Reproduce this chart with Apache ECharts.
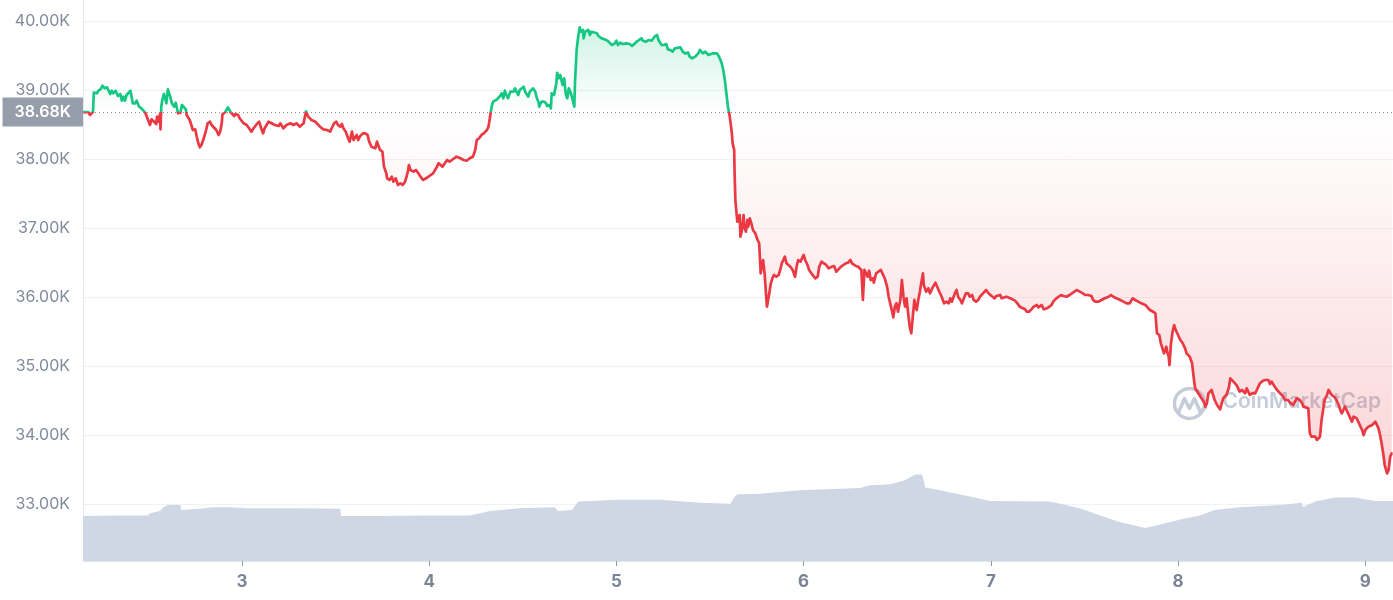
<!DOCTYPE html>
<html><head><meta charset="utf-8">
<script src="https://cdn.jsdelivr.net/npm/echarts@6/dist/echarts.min.js"></script>
<style>html,body{margin:0;padding:0;background:#fff}#c{width:1393px;height:600px}</style>
</head><body><div id="c"></div>
<script>
// x = hours since day 2, 00:00 ; y = price in USD
const baselinePrice = 38680;
const dayTicks = [3, 4, 5, 6, 7, 8, 9];
const priceTicks = [33000, 34000, 35000, 36000, 37000, 38000, 39000, 40000];
const pricePoints = [
[3.62,38680],[4.3,38680],[4.5,38638],[4.9,38685],[5.0,38961],[5.4,38952],[5.6,38990],[5.9,39014],[6.1,39062],[6.4,39024],[6.7,39039],[7.1,38942],[7.3,38990],[7.5,38952],[7.8,38990],[8.1,38913],[8.4,38942],[8.6,38845],[8.8,38903],[9.0,38845],[9.2,38927],[9.4,38952],[9.7,38990],[10.0,38807],[10.3,38807],[10.5,38845],[10.8,38758],[11.1,38734],[11.6,38671],[11.8,38613],[12.0,38638],[12.2,38493],[12.4,38575],[12.6,38590],[13.0,38507],[13.1,38613],[13.3,38540],[13.5,38662],[13.55,38430],[13.65,38758],[13.8,38865],[14.0,38942],[14.2,38855],[14.3,38807],[14.5,39010],[14.8,38903],[15.0,38807],[15.3,38758],[15.5,38816],[15.8,38662],[16.1,38671],[16.3,38782],[16.5,38807],[16.8,38720],[16.9,38638],[17.3,38565],[17.7,38420],[18.0,38430],[18.2,38323],[18.4,38227],[18.6,38170],[18.8,38203],[19.1,38300],[19.4,38420],[19.6,38517],[19.9,38540],[20.1,38493],[20.3,38493],[20.7,38420],[21.0,38348],[21.2,38396],[21.4,38517],[21.5,38652],[21.8,38671],[22.0,38685],[22.2,38749],[22.5,38685],[22.7,38662],[23.0,38623],[23.2,38652],[23.5,38638],[23.7,38590],[24.2,38517],[24.6,38493],[25.0,38430],[25.2,38396],[25.4,38430],[25.9,38507],[26.2,38540],[26.5,38430],[26.7,38372],[26.9,38445],[27.4,38540],[27.8,38517],[28.2,38493],[28.7,38478],[28.9,38517],[29.3,38445],[29.7,38493],[30.2,38517],[30.6,38493],[31.0,38517],
[31.4,38468],[31.9,38517],[32.2,38690],[32.5,38613],[32.9,38565],[33.4,38540],[34.0,38468],[34.4,38430],[34.9,38420],[35.3,38396],[35.5,38445],[35.8,38517],[36.1,38540],[36.3,38493],[36.6,38468],[36.8,38507],[37.0,38445],[37.3,38396],[37.6,38300],[37.8,38251],[38.1,38396],[38.3,38275],[38.5,38251],[38.7,38348],[38.9,38275],[39.1,38323],[39.5,38372],[39.8,38372],[40.1,38348],[40.3,38251],[40.6,38178],[40.8,38203],[41.1,38155],[41.3,38251],[41.5,38227],[41.7,38130],[42.0,38106],[42.2,37889],[42.5,37792],[42.6,37720],[42.9,37696],[43.2,37743],[43.4,37671],[43.7,37720],[44.0,37623],[44.3,37648],[44.6,37623],[44.9,37671],[45.1,37743],[45.3,37840],[45.4,37913],[45.6,37840],[46.0,37816],[46.3,37840],[46.6,37792],[46.9,37743],[47.2,37696],[47.6,37720],[47.9,37743],[48.2,37768],[48.5,37792],[49.0,37889],[49.2,37937],[49.4,37913],[49.7,37889],[50.0,37937],[50.3,37985],[50.6,37961],[50.9,37985],[51.1,37995],[51.5,38033],[51.7,38058],[52.0,38010],[52.4,37985],[52.8,37975],[53.2,38010],[53.6,38033],[53.9,38130],[54.1,38275],[54.4,38300],[54.7,38348],[55.0,38372],[55.4,38420],[55.6,38468],[55.8,38613],[56.0,38758],[56.2,38830],[56.4,38830],[56.7,38865],[57.0,38903],
[57.3,38952],[57.5,38880],[57.7,38990],[57.9,38927],[58.1,38880],[58.4,38975],[58.8,38975],[59.0,39024],[59.2,38975],[59.4,38927],[59.6,39000],[60.1,39048],[60.3,38975],[60.5,38952],[60.7,38903],[60.9,38975],[61.3,39024],[61.6,38975],[61.8,38880],[62.0,38830],[62.1,38758],[62.4,38830],[62.7,38830],[63.0,38807],[63.1,38768],[63.4,38782],[63.6,38734],[63.7,38952],[63.9,38975],[64.0,38927],[64.3,39097],[64.4,39250],[64.6,39170],[64.8,39217],[65.0,39120],[65.1,39072],[65.3,39170],[65.5,38952],[65.7,38880],[65.9,39024],[66.1,38975],[66.4,38855],[66.6,38758],[66.7,39145],[66.9,39580],[67.1,39772],[67.3,39908],[67.4,39845],[67.7,39870],[67.8,39749],[68.0,39845],[68.2,39821],[68.4,39870],[68.6,39797],[68.8,39845],[69.0,39821],[69.5,39821],[69.7,39782],[70.1,39749],[70.3,39724],[70.7,39724],[71.0,39700],[71.4,39652],[71.8,39676],[72.0,39714],[72.2,39652],[72.5,39685],[72.8,39666],[73.0,39652],[73.3,39676],[73.7,39666],[74.0,39638],[74.2,39666],[74.6,39700],[74.9,39724],[75.2,39749],[75.4,39714],[75.8,39700],[76.1,39724],[76.5,39714],[76.9,39772],[77.2,39797],[77.4,39724],[77.6,39714],[77.8,39652],[78.1,39652],[78.4,39666],[78.6,39589],[78.9,39580],[79.2,39555],[79.5,39604],[79.7,39580],[80.2,39619],[80.5,39555],[80.8,39531],[81.0,39507],[81.2,39541],[81.4,39483],[81.7,39459],[82.1,39483],[82.3,39507],[82.5,39531],[82.7,39580],[82.9,39555],[83.1,39531],[83.4,39555],[83.6,39531],[83.8,39507],[84.0,39483],[84.4,39531],[84.6,39541],[84.9,39531],[85.1,39493],[85.3,39445],[85.5,39387],[85.7,39290],[85.9,39145],[86.1,38952],[86.3,38758],[86.5,38638],[86.7,38468],
[86.8,38372],[86.9,38227],[87.1,38130],[87.15,37792],[87.25,37405],[87.4,37213],[87.5,37091],[87.6,37068],[87.8,37188],[87.9,36874],[88.1,36971],[88.3,37188],[88.4,37019],[88.6,36946],[88.8,37116],[88.9,37019],[89.1,37140],[89.3,37068],[89.5,36971],[89.8,36923],[90.1,36826],[90.3,36778],[90.5,36343],[90.7,36488],[90.8,36536],[91.0,36343],[91.2,36004],[91.3,35860],[91.6,36053],[91.8,36198],[92.0,36271],[92.2,36319],[92.5,36294],[92.8,36319],[93.0,36392],[93.2,36488],[93.4,36536],[93.6,36584],[93.8,36488],[94.0,36464],[94.3,36439],[94.6,36392],[94.9,36294],[95.1,36439],[95.3,36536],[95.6,36512],[96.0,36609],[96.2,36536],[96.5,36464],[96.7,36392],[97.0,36343],[97.5,36271],[97.8,36294],[98.0,36439],[98.3,36512],[98.6,36488],[98.9,36464],[99.2,36415],[99.4,36392],[99.6,36439],[99.9,36449],[100.2,36367],[100.4,36392],[100.8,36439],[101.1,36464],[101.4,36488],[101.7,36497],[102.0,36536],[102.2,36488],[102.4,36464],[102.7,36449],[103.0,36439],[103.2,36415],[103.4,36392],[103.6,35957],[103.8,36392],[104.0,36367],[104.2,36294],[104.4,36381],[104.6,36246],[104.9,36271],[105.0,36207],[105.3,36343],[105.6,36367],[105.9,36392],[106.1,36343],[106.4,36271],[106.7,36150],[106.9,36004],[107.1,35908],[107.3,35811],[107.5,35705],[107.7,35860],[107.9,35908],[108.1,35787],[108.4,35957],[108.6,36246],[108.8,36004],[109.0,35860],[109.2,35981],[109.4,35763],[109.6,35570],[109.8,35474],[110.0,35714],[110.2,35957],[110.3,35884],[110.5,35811],[110.7,35957],[110.9,36077],[111.0,36150],[111.3,36343],[111.4,36174],[111.7,36077],[112.0,36126],[112.2,36053],[112.4,36101],[112.6,36150],[112.9,36207],[113.3,36101],
[113.7,36004],[114.0,35908],[114.3,35932],[114.6,35908],[114.8,35981],[115.0,35932],[115.2,35908],[115.4,36053],[115.6,36101],[115.8,36004],[116.1,35957],[116.3,35908],[116.5,35932],[116.8,36053],[117.1,36053],[117.3,36004],[117.6,36029],[117.8,35957],[118.1,35932],[118.4,35957],[118.6,36004],[119.0,36053],[119.4,36101],[119.7,36053],[120.1,36014],[120.5,35981],[120.7,36014],[121.2,36029],[121.4,35981],[121.6,36004],[122.0,36004],[122.5,35981],[122.7,35957],[123.1,35947],[123.4,35908],[123.7,35860],[124.1,35836],[124.4,35821],[124.6,35787],[124.9,35787],[125.2,35821],[125.5,35860],[125.9,35884],[126.1,35850],[126.3,35836],[126.5,35884],[126.8,35821],[127.2,35836],[127.5,35860],[127.8,35884],[128.0,35932],[128.4,35981],[128.7,36004],[129.0,36029],[129.3,36014],[129.7,36004],[130.1,36029],[130.4,36053],[130.6,36077],[131.0,36101],[131.2,36111],[131.4,36077],[131.8,36053],[132.1,36029],[132.5,36029],[132.9,36014],[133.1,35957],[133.4,35932],[133.8,35932],[134.2,35957],[134.6,35981],[135.1,36004],[135.4,36029],[135.7,36004],[136.1,35981],[136.6,35957],[137.0,35932],[137.4,35908],[137.8,35908],[138.2,35981],[138.5,35957],[138.9,35932],[139.3,35908],[139.8,35884],[140.1,35850],[140.4,35811],[140.8,35787],[141.1,35763],
[141.2,35619],[141.3,35474],[141.6,35449],[141.8,35329],[142.0,35304],[142.2,35184],[142.5,35280],[142.6,35207],[142.8,35135],[142.9,35014],[143.1,35329],[143.3,35497],[143.5,35594],[143.7,35521],[144.0,35449],[144.3,35376],[144.6,35329],[144.9,35256],[145.1,35184],[145.3,35207],[145.5,35135],[145.8,35039],[145.9,34942],[146.1,34749],[146.2,34677],[146.4,34652],[146.6,34604],[146.8,34628],[147.0,34532],[147.3,34483],[147.5,34411],[147.7,34459],[147.9,34604],[148.1,34628],[148.3,34652],[148.5,34580],[148.7,34507],[149.0,34435],[149.2,34411],[149.4,34372],[149.6,34459],[149.8,34532],[150.0,34532],[150.2,34580],[150.5,34677],[150.7,34821],[150.9,34845],[151.1,34773],[151.3,34749],[151.5,34724],[151.7,34700],[151.9,34628],[152.2,34652],[152.4,34628],[152.6,34604],[152.8,34677],[153.0,34628],[153.2,34580],[153.5,34604],[153.7,34628],[153.9,34604],[154.1,34652],[154.3,34700],[154.5,34749],[154.7,34773],[154.9,34787],[155.2,34797],[155.4,34773],[155.6,34797],[155.8,34739],[156.0,34773],[156.2,34773],[156.4,34700],[156.7,34652],[156.9,34628],[157.1,34604],[157.3,34580],[157.5,34555],[157.7,34507],[157.9,34483],[158.1,34507],[158.4,34459],[158.6,34483],[158.8,34435],[159.0,34459],[159.2,34532],[159.4,34555],[159.6,34507],[159.9,34459],[160.1,34411],[160.3,34387],[160.7,34387],[160.9,34025],[161.1,33975],[161.3,33952],[161.6,33975],[161.8,33928],[162.0,33952],[162.2,33975],[162.4,34217],[162.6,34362],[162.8,34507],[163.1,34580],[163.3,34652],[163.5,34628],[163.7,34580],[163.9,34555],[164.1,34546],[164.3,34507],[164.6,34435],[164.8,34362],[165.0,34314],[165.2,34362],[165.4,34411],[165.6,34362],[165.8,34314],[166.1,34242],[166.3,34193],[166.5,34266],[166.7,34290],[166.9,34242],[167.1,34193],[167.3,34145],[167.6,34072],[167.8,34000],[168.0,34072],[168.2,34097],[168.4,34121],[168.6,34145],[168.9,34145],[169.1,34169],[169.3,34193],[169.5,34169],[169.7,34097],[169.9,34000],[170.1,33879],[170.3,33735],[170.5,33565],[170.8,33444],[171.0,33493],[171.2,33686],[171.4,33735],[171.5,33735]
];
// relative trading volume (hidden scale)
const volumePoints = [
[3.6,8.0],[8.4,8.1],[11.9,8.1],[12.2,8.5],[13.5,8.9],[13.9,9.6],[14.5,10.0],[16.1,10.0],[16.2,9.1],[18.6,9.3],[20.2,9.6],[22.5,9.6],[24.4,9.4],[31.4,9.4],[36.6,9.3],[36.7,8.0],[41.7,8.0],[46.8,8.1],[53.2,8.1],[55.8,8.9],[59.6,9.4],[64.1,9.6],[64.5,8.9],[66.3,9.1],[67.1,10.6],[72.5,10.9],[77.6,10.9],[82.7,10.4],[86.6,10.2],[87.2,11.5],[87.5,11.9],[90.4,12.0],[95.5,12.6],[103.2,13.0],[104.5,13.5],[107.1,13.7],[109.0,14.4],[110.3,15.4],[111.2,15.4],[111.6,13.1],[113.5,12.6],[117.3,11.5],[119.9,10.7],[127.6,10.6],[131.4,9.4],[134.0,8.1],[136.6,6.9],[139.8,5.9],[141.7,6.5],[144.3,7.4],[146.8,8.1],[148.7,9.1],[151.9,9.6],[157.1,10.0],[159.9,10.4],[160.0,9.6],[161.6,10.6],[164.1,11.3],[166.7,11.3],[169.3,10.7],[171.6,10.7]
];

const chart = echarts.init(document.getElementById('c'), null, {renderer: 'canvas'});
const xMin = 3.615, xMax = 171.56;
const yMin = 32174, yMax = 40304;
const FONT = 'Inter, Roboto, sans-serif';

const option = {
  animation: false,
  backgroundColor: '#ffffff',
  grid: { left: 83, right: 0, top: 0, bottom: 39, containLabel: false },
  xAxis: {
    type: 'value', min: xMin, max: xMax,
    axisLine: { show: true, lineStyle: { color: '#e3e6ec', width: 1 } },
    axisTick: { show: true, length: 5, lineStyle: { color: '#8f98a8' }, customValues: dayTicks.map(d => (d - 2) * 24) },
    axisLabel: { customValues: dayTicks.map(d => (d - 2) * 24), formatter: v => String(Math.round(2 + v / 24)),
      color: '#7a8497', fontSize: 17, fontWeight: 700, fontFamily: FONT, margin: 12 },
    splitLine: { show: false }
  },
  yAxis: [{
    type: 'value', min: yMin, max: yMax, position: 'left',
    axisLine: { show: true, lineStyle: { color: '#e6e8ec' } },
    axisTick: { show: false, customValues: priceTicks },
    axisLabel: { customValues: priceTicks, formatter: v => (v / 1000).toFixed(2) + 'K',
      color: '#808a9d', fontSize: 16, fontFamily: FONT, margin: 13 },
    splitLine: { show: true, lineStyle: { color: '#eff2f5', width: 1 } }
  }, {
    type: 'value', min: 0, max: 100, show: false,
    splitLine: { show: false }
  }],
  series: [{
    type: 'line', name: 'Volume', yAxisIndex: 1, data: volumePoints,
    showSymbol: false, symbol: 'none', silent: true, z: 1,
    lineStyle: { width: 0 }, itemStyle: { color: '#cfd6e4' },
    areaStyle: { color: '#cfd6e4', opacity: 1 }
  }, {
    type: 'line', name: 'Price', yAxisIndex: 0, data: pricePoints,
    showSymbol: false, symbol: 'none', z: 3,
    lineStyle: { width: 2.7, join: 'round', color: '#ea3943' },
    itemStyle: { color: '#ea3943' },
    areaStyle: { origin: baselinePrice, color: 'rgba(0,0,0,0)' },
    markLine: {
      silent: true, symbol: 'none', animation: false,
      data: [{ yAxis: baselinePrice }],
      lineStyle: { type: [1, 3], color: '#8c8c8c', width: 1 },
      label: { position: 'start', distance: 0, formatter: () => (baselinePrice / 1000).toFixed(2) + 'K',
        color: '#ffffff', backgroundColor: '#969dab', padding: [6, 12, 6, 12],
        fontSize: 16, fontWeight: 600, fontFamily: FONT, lineHeight: 17 }
    }
  }],
  graphic: [{
    type: 'group', left: 1172, top: 386, z: 0, silent: true,
    children: [
      { type: 'arc', shape: { cx: 17, cy: 17, r: 15, startAngle: Math.PI * 0.05, endAngle: Math.PI * 1.95 },
        style: { stroke: '#c5ccd9', lineWidth: 3.5, fill: null } },
      { type: 'polyline', shape: { points: [[6, 26], [12, 12], [17, 22], [22, 12], [28, 26], [34, 20]] },
        style: { stroke: '#c5ccd9', lineWidth: 3.5, fill: null, lineJoin: 'round' } },
      { type: 'text', x: 50, y: 5, style: { text: 'CoinMarketCap', fill: '#c5ccd9', font: '600 21px Inter, Roboto, sans-serif' } }
    ]
  }]
};
chart.setOption(option);

// line and area colours split at the baseline's pixel position
const prices = pricePoints.map(p => p[1]);
const pTop = chart.convertToPixel({ yAxisIndex: 0 }, Math.max(...prices)) - 3;
const pBase = chart.convertToPixel({ yAxisIndex: 0 }, baselinePrice);
const pBot = chart.convertToPixel({ yAxisIndex: 0 }, Math.min(...prices)) + 3;
const off = (pBase - pTop) / (pBot - pTop);
const G = echarts.graphic.LinearGradient;
chart.setOption({ series: [{}, {
  lineStyle: { color: new G(0, pTop, 0, pBot, [
    { offset: 0, color: '#16c784' }, { offset: off, color: '#16c784' },
    { offset: off, color: '#ea3943' }, { offset: 1, color: '#ea3943' }], true) },
  areaStyle: { origin: baselinePrice, color: new G(0, pTop, 0, pBot, [
    { offset: 0, color: 'rgba(22,199,132,0.3)' },
    { offset: off, color: 'rgba(22,199,132,0)' },
    { offset: off, color: 'rgba(234,57,67,0)' },
    { offset: 1, color: 'rgba(234,57,67,0.3)' }], true) }
}] });
</script></body></html>
